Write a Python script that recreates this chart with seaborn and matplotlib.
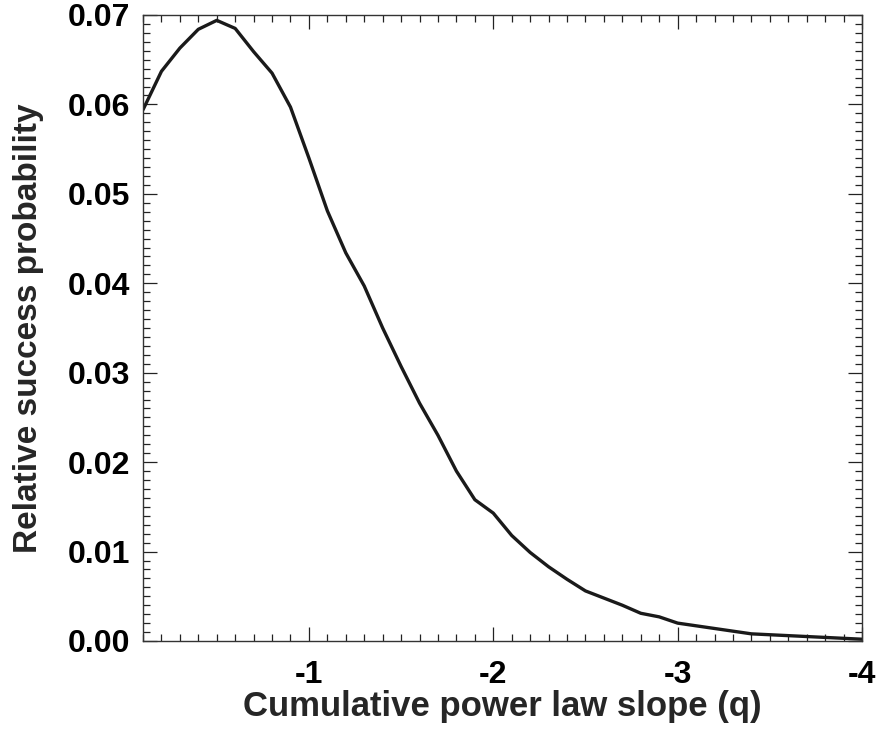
import numpy as np
import pandas as pd
import matplotlib
matplotlib.use("Agg")
import matplotlib.pyplot as plt
from matplotlib.ticker import MultipleLocator, FixedLocator
import seaborn as sns

slope_q = [-0.1, -0.2, -0.3, -0.4, -0.5, -0.6, -0.7, -0.8, -0.9, -1.0,
           -1.1, -1.2, -1.3, -1.4, -1.5, -1.6, -1.7, -1.8, -1.9, -2.0,
           -2.1, -2.2, -2.3, -2.4, -2.5, -2.6, -2.7, -2.8, -2.9, -3.0,
           -3.1, -3.2, -3.3, -3.4, -3.5, -3.6, -3.7, -3.8, -3.9, -4.0]
success_prob = [0.0594, 0.0637, 0.0663, 0.0684, 0.0694, 0.0685, 0.0659, 0.0635, 0.0597, 0.0540,
                0.0481, 0.0434, 0.0397, 0.0350, 0.0307, 0.0266, 0.0230, 0.0190, 0.0158, 0.0143,
                0.0118, 0.0099, 0.0083, 0.0069, 0.0056, 0.0048, 0.0040, 0.0031, 0.0027, 0.0020,
                0.0017, 0.0014, 0.0011, 0.0008, 0.0007, 0.0006, 0.0005, 0.0004, 0.0003, 0.0002]
x_ticks = [-1, -2, -3, -4]
x_tick_labels = ["-1", "-2", "-3", "-4"]
y_ticks = [0.00, 0.01, 0.02, 0.03, 0.04, 0.05, 0.06, 0.07]
y_tick_labels = ["0.00", "0.01", "0.02", "0.03", "0.04", "0.05", "0.06", "0.07"]

df = pd.DataFrame({"q": slope_q, "p": success_prob})

sns.set_style("ticks")
plt.rcParams["font.family"] = ["Liberation Sans", "DejaVu Sans"]
plt.rcParams["font.weight"] = "bold"

fig = plt.figure(figsize=(8.81, 7.29), dpi=100)
ax = fig.add_axes([143/881, 1 - 641/729, (862 - 143)/881, (641 - 15)/729])

sns.lineplot(data=df, x="q", y="p", ax=ax, color="#1a1a1a", linewidth=2.4, sort=False)

ax.set_xlim(-0.1, -4)
ax.set_ylim(0, 0.07)
ax.xaxis.set_major_locator(FixedLocator(x_ticks))
ax.set_xticklabels(x_tick_labels)
ax.xaxis.set_minor_locator(MultipleLocator(0.1))
ax.yaxis.set_major_locator(FixedLocator(y_ticks))
ax.set_yticklabels(y_tick_labels)
ax.yaxis.set_minor_locator(MultipleLocator(0.001))

ax.tick_params(which="both", direction="in", top=True, right=True, colors="#222222", width=0.9)
ax.tick_params(which="major", length=10, labelsize=23, pad=9)
ax.tick_params(axis="x", which="major", pad=14)
ax.tick_params(which="minor", length=5)
for lab in ax.get_xticklabels() + ax.get_yticklabels():
    lab.set_fontweight("bold")
    lab.set_color("black")
for s in ax.spines.values():
    s.set_linewidth(1.0)
    s.set_color("#333333")

ax.set_xlabel("Cumulative power law slope (q)", fontsize=25, fontweight="bold", labelpad=0)
ax.set_ylabel("Relative success probability", fontsize=24, fontweight="bold", labelpad=17)

fig.savefig("out.png", dpi=100)
